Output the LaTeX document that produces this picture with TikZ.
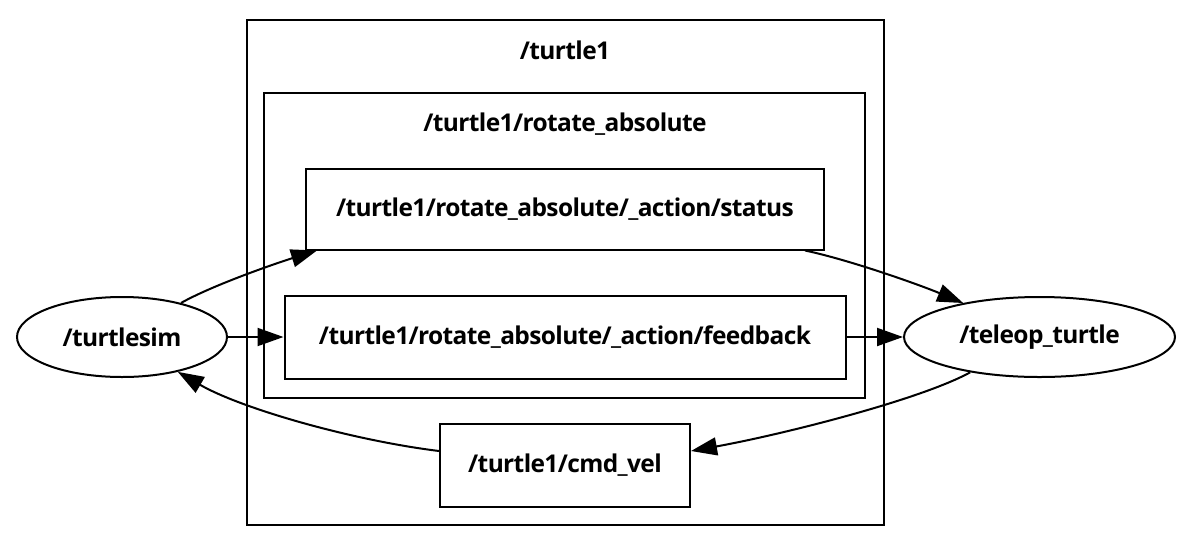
\documentclass[tikz,border=0pt]{standalone}
\usepackage{fontspec}
\setmainfont[LetterSpace=-2.5]{Open Sans}
\usetikzlibrary{arrows.meta,calc,shapes.geometric}
\begin{document}
\begin{tikzpicture}[x=1pt,y=-1pt,
  line width=2pt,
  every node/.style={font=\fontsize{24.5}{29}\selectfont\bfseries},
  cluster/.style={draw,line width=2pt},
  topic/.style={draw,rectangle,inner sep=0pt,line width=2pt},
  rosnode/.style={draw,ellipse,inner sep=0pt,line width=2pt},
  edge/.style={-{Triangle[length=26pt,width=18pt]}}]
\useasboundingbox (0,0) rectangle (1193,544);
% clusters
\draw[cluster] (247,20) rectangle (884,525);
\node (lblturtle) at (565,50) {/turtle1};
\draw[cluster] (264,93) rectangle (865,398);
\node (lblrot) at (565,124) {/turtle1/rotate\_absolute};
% topics
\node[topic,minimum width=518pt,minimum height=81pt] (st) at (565,209) {/turtle1/rotate\_absolute/\_action/status};
\node[topic,minimum width=561pt,minimum height=83pt] (fb) at (565,337) {/turtle1/rotate\_absolute/\_action/feedback};
\node[topic,minimum width=250pt,minimum height=83pt] (cv) at (565,465) {/turtle1/cmd\_vel};
% ROS nodes
\node[rosnode,minimum width=210pt,minimum height=80pt] (ts) at (122,337) {/turtlesim};
\node[rosnode,minimum width=271pt,minimum height=80pt] (tp) at (1039.5,337) {/teleop\_turtle};
% connections
\draw[edge] (ts.30) .. controls (215,284) and (280,262) .. ($(st.south west)+(12,0)$);
\draw[edge] (ts.east) -- (fb.west);
\draw[edge] ($(st.south east)+(-20,0)$) .. controls (850,260) and (920,285) .. (tp.156);
\draw[edge] (fb.east) -- (tp.west);
\draw[edge] (tp.207) .. controls (920,400) and (780,435) .. ($(cv.east)+(0,-14)$);
\draw[edge] ($(cv.west)+(0,-14)$) .. controls (350,440) and (240,408) .. (ts.-32);
\end{tikzpicture}
\end{document}
